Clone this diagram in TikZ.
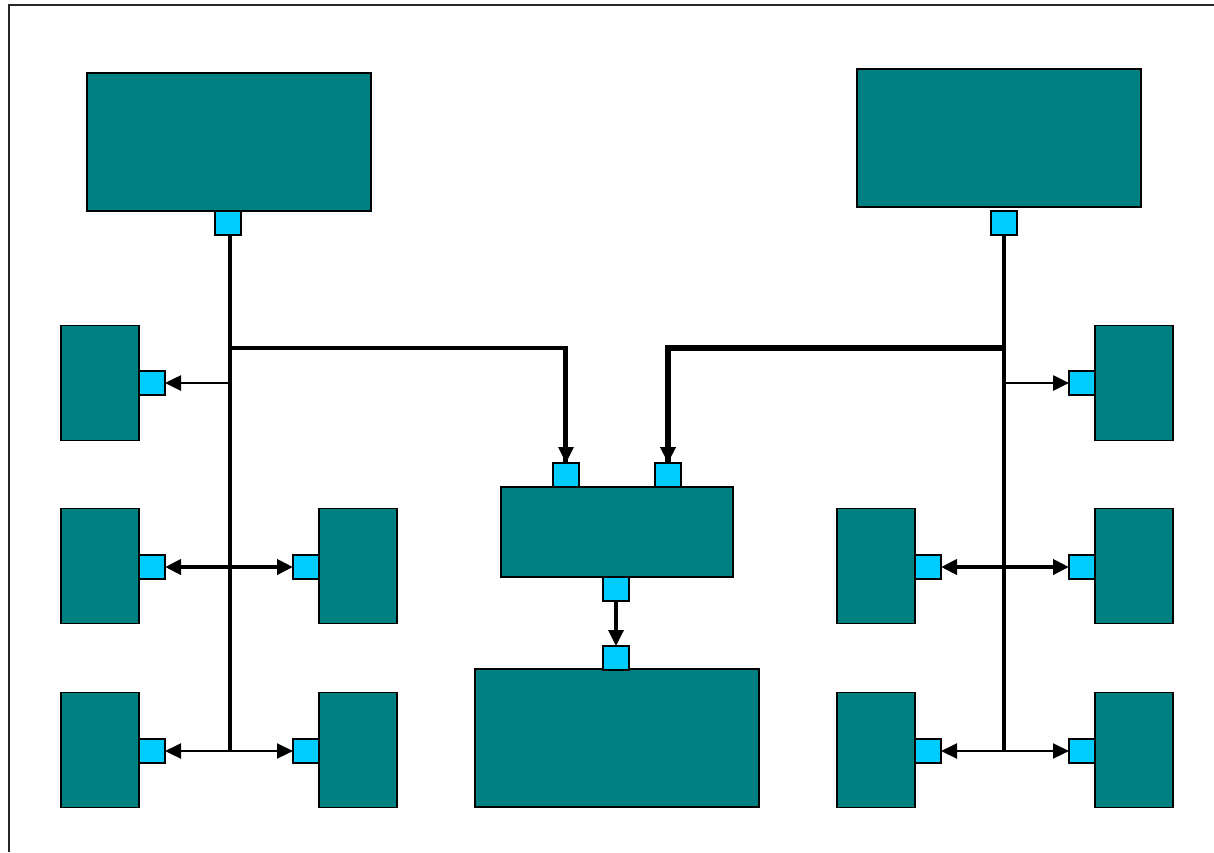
\documentclass[tikz,border=0pt]{standalone}
\usepackage{tikz}
\usetikzlibrary{arrows.meta,positioning}
\definecolor{unitteal}{HTML}{008080}
\definecolor{portcyan}{HTML}{00CCFF}

\begin{document}
\begin{tikzpicture}[
  x=0.2mm, y=-0.2mm,
  unit/.style={draw=black, fill=unitteal, line width=0.6pt, inner sep=0pt, outer sep=0pt},
  bigunit/.style={unit, minimum width=56.8mm, minimum height=27.6mm},
  sideunit/.style={unit, minimum width=15.6mm, minimum height=23mm},
  midunit/.style={unit, minimum width=46.4mm, minimum height=18mm},
  port/.style={draw=black, fill=portcyan, line width=0.6pt, inner sep=0pt, outer sep=0pt,
    minimum width=5.2mm, minimum height=4.8mm},
  bus/.style={line width=2.6pt, black},
  arr/.style={-{Triangle[length=3.2mm, width=3mm]}, line width=1.5pt},
  darr/.style={{Triangle[length=3.2mm, width=3mm]}-{Triangle[length=3.2mm, width=3mm]}},
]
\useasboundingbox (0,0) rectangle (1214,852);
% frame
\draw[line width=1.1pt, black!85] (9,852) -- (9,5) -- (1214,5);

% big units at the top
\node[bigunit] (tlunit) at (229,142) {};
\node[bigunit] (trunit) at (999,138) {};
\node[port] (tlport) at (228,223) {};
\node[port] (trport) at (1004,223) {};

% left column
\node[sideunit] (lunitA) at (100,383) {};
\node[sideunit] (lunitB) at (100,566) {};
\node[sideunit] (lunitC) at (100,750) {};
\node[port] (lportA) at (152,383) {};
\node[port] (lportB) at (152,567) {};
\node[port] (lportC) at (152,751) {};
\node[sideunit] (munitB) at (358,566) {};
\node[sideunit] (munitC) at (358,750) {};
\node[port] (mportB) at (306,567) {};
\node[port] (mportC) at (306,751) {};

% right column
\node[sideunit] (nunitB) at (876,566) {};
\node[sideunit] (nunitC) at (876,750) {};
\node[port] (nportB) at (928,567) {};
\node[port] (nportC) at (928,751) {};
\node[sideunit] (runitA) at (1134,383) {};
\node[sideunit] (runitB) at (1134,566) {};
\node[sideunit] (runitC) at (1134,750) {};
\node[port] (rportA) at (1082,383) {};
\node[port] (rportB) at (1082,567) {};
\node[port] (rportC) at (1082,751) {};

% centre
\node[midunit] (cunit) at (617,532) {};
\node[port] (cinL) at (566,475) {};
\node[port] (cinR) at (668,475) {};
\node[port] (cout) at (616,589) {};
\node[bigunit] (bunit) at (617,738) {};
\node[port] (bin) at (616,658) {};

% buses
\coordinate (ljoin) at (230,348);
\coordinate (lend) at (230,751);
\coordinate (rjoin) at (1004,348);
\coordinate (rend) at (1004,751);
\draw[bus] (tlport.south -| ljoin) -- (lend);
\draw[bus] (trport.south) -- (rend);
\draw[bus] (ljoin) -| ([xshift=-0.1mm]cinL.north);
\draw[arr, line width=1.8pt] (ljoin -| cinL) -- (cinL.north);
\draw[bus, line width=3.2pt] (rjoin) -| (cinR.north);
\draw[arr, line width=3.2pt] (rjoin -| cinR) -- (cinR.north);

\draw[arr] (ljoin |- lportA) -- (lportA.east);
\draw[arr] (rjoin |- rportA) -- (rportA.west);
\draw[darr, line width=2.6pt] (lportB.east) -- (mportB.west);
\draw[darr, line width=2.6pt] (nportB.east) -- (rportB.west);
\draw[darr, line width=1.2pt] (lportC.east) -- (mportC.west);
\draw[darr, line width=1.2pt] (nportC.east) -- (rportC.west);
\draw[arr, line width=1.9pt] (cout.south) -- (bin.north);
\end{tikzpicture}
\end{document}
